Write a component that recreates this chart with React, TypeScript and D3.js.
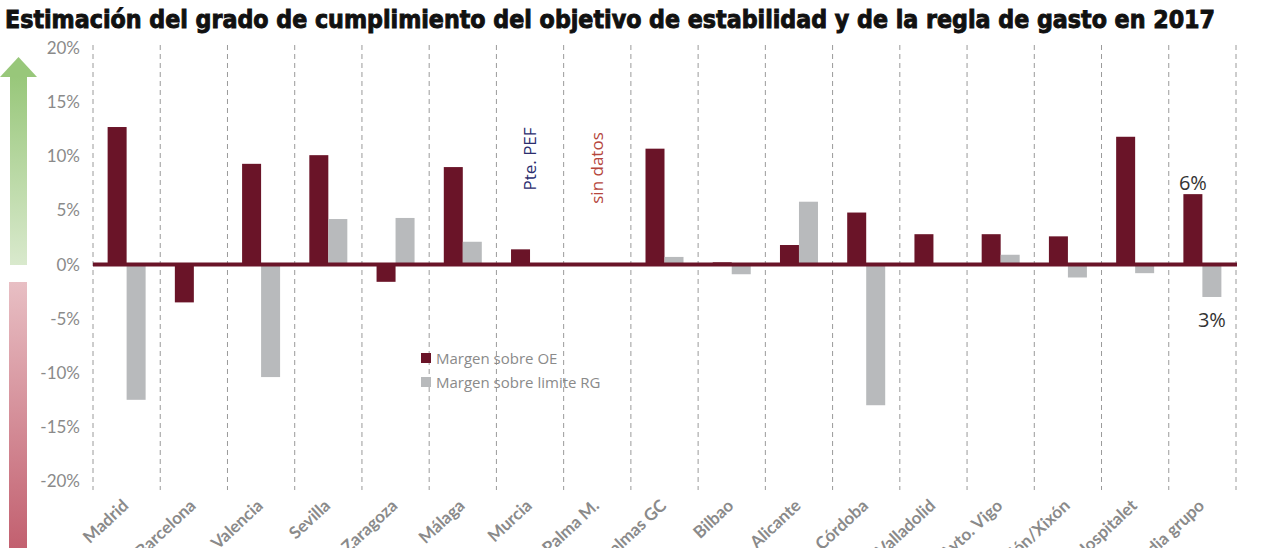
import React from "react";
import * as d3 from "d3";

const categories = ["Madrid", "Barcelona", "Valencia", "Sevilla", "Zaragoza", "Málaga", "Murcia", "Palma M.", "Las Palmas GC", "Bilbao", "Alicante", "Córdoba", "Valladolid", "Ayto. Vigo", "Gijón/Xixón", "L'Hospitalet", "Media grupo"];
const margenOE = [12.7, -3.5, 9.3, 10.1, -1.6, 9.0, 1.4, 0, 10.7, 0.2, 1.8, 4.8, 2.8, 2.8, 2.6, 11.8, 6.5];
const margenRG = [-12.5, 0, -10.4, 4.2, 4.3, 2.1, 0, 0, 0.7, -0.9, 5.8, -13.0, 0, 0.9, -1.2, -0.8, -3.0];
const yTicks = [20, 15, 10, 5, 0, -5, -10, -15, -20];
const seriesNames = ["Margen sobre OE", "Margen sobre limite RG"];
const title = "Estimación del grado de cumplimiento del objetivo de estabilidad y de la regla de gasto en 2017";

const W = 1280, H = 548;
const colOE = "#6a1428";
const colRG = "#b8babc";

export default function App() {
  const x = d3.scaleBand<string>().domain(categories).range([93, 1236]).paddingInner(0).paddingOuter(0);
  const y = d3.scaleLinear().domain([-20, 20]).range([481, 48]);
  const bw = x.bandwidth();
  const barW = 19;
  const off = (bw - 2 * barW) / 2;
  const boundaries = categories.map((c) => x(c)!).concat([1236]);

  return (
    <svg width={W} height={H} style={{ position: "absolute", left: 0, top: 0, background: "#fff" }}>
      <defs>
        <linearGradient id="gUp" x1="0" y1="0" x2="0" y2="1">
          <stop offset="0" stopColor="#98c77a" />
          <stop offset="1" stopColor="#d9e9cd" />
        </linearGradient>
        <linearGradient id="gDown" x1="0" y1="0" x2="0" y2="1">
          <stop offset="0" stopColor="#e8bfc4" />
          <stop offset="1" stopColor="#c05b6b" />
        </linearGradient>
      </defs>
      <text x={5} y={28} fontFamily="'DejaVu Sans Condensed', 'DejaVu Sans'" fontStretch="condensed" fontWeight="bold" fontSize={25} textLength={1210} lengthAdjust="spacingAndGlyphs" fill="#111" stroke="#111" strokeWidth={0.9}>{title}</text>

      {/* arrows */}
      <rect x={10} y={76} width={17} height={189} fill="url(#gUp)" />
      <polygon points="0,77 18.5,57 37,77" fill="#98c77a" />
      <rect x={9} y={282} width={18} height={280} fill="url(#gDown)" />

      {/* y tick labels */}
      {yTicks.map((t) => (
        <text key={t} x={80} y={y(t) + 6} textAnchor="end" fontFamily="Lato" fontSize={17} fill="#8a8a8a">{t + "%"}</text>
      ))}

      {/* gridlines */}
      {boundaries.map((b, i) => (
        <line key={i} x1={b} x2={b} y1={45} y2={490} stroke="#9a9a9a" strokeWidth={1} strokeDasharray="5,4" />
      ))}

      {/* bars */}
      {categories.map((c, i) => (
        <g key={c}>
          {margenOE[i] !== 0 && (
            <rect x={x(c)! + off} y={y(Math.max(0, margenOE[i]))} width={barW} height={Math.abs(y(margenOE[i]) - y(0))} fill={colOE} />
          )}
          {margenRG[i] !== 0 && (
            <rect x={x(c)! + off + barW} y={y(Math.max(0, margenRG[i]))} width={barW} height={Math.abs(y(margenRG[i]) - y(0))} fill={colRG} />
          )}
        </g>
      ))}

      {/* zero line */}
      <line x1={93} x2={1237} y1={y(0)} y2={y(0)} stroke={colOE} strokeWidth={4} />

      {/* x labels */}
      {categories.map((c) => (
        <text key={c} transform={`translate(${x(c)! + bw / 2 + 3},${507}) rotate(-43)`} textAnchor="end" fontFamily="Lato" fontWeight="bold" fontSize={17} fill="#8a8a8a">{c}</text>
      ))}

      {/* annotations */}
      <text transform={`translate(${x("Murcia")! + bw / 2 + 6},${159}) rotate(-90)`} textAnchor="middle" fontFamily="'Open Sans'" fontSize={17} fill="#2b2d6e">Pte. PEF</text>
      <text transform={`translate(${x("Palma M.")! + bw / 2 + 6},${168}) rotate(-90)`} textAnchor="middle" fontFamily="'Open Sans'" fontSize={17} fill="#b5463c">sin datos</text>
      <text x={x("Media grupo")! + off + barW / 2} y={y(margenOE[16]) - 4} textAnchor="middle" fontFamily="'Open Sans'" fontSize={20} fill="#333">6%</text>
      <text x={x("Media grupo")! + off + barW * 1.5} y={y(margenRG[16]) + 30} textAnchor="middle" fontFamily="'Open Sans'" fontSize={20} fill="#333">3%</text>

      {/* legend */}
      {seriesNames.map((s, i) => (
        <g key={s}>
          <rect x={421} y={353 + i * 24} width={10} height={10} fill={i === 0 ? colOE : colRG} />
          <text x={436} y={364 + i * 24} fontFamily="'Open Sans'" fontSize={15} fill="#8a8a8a">{s}</text>
        </g>
      ))}
    </svg>
  );
}
